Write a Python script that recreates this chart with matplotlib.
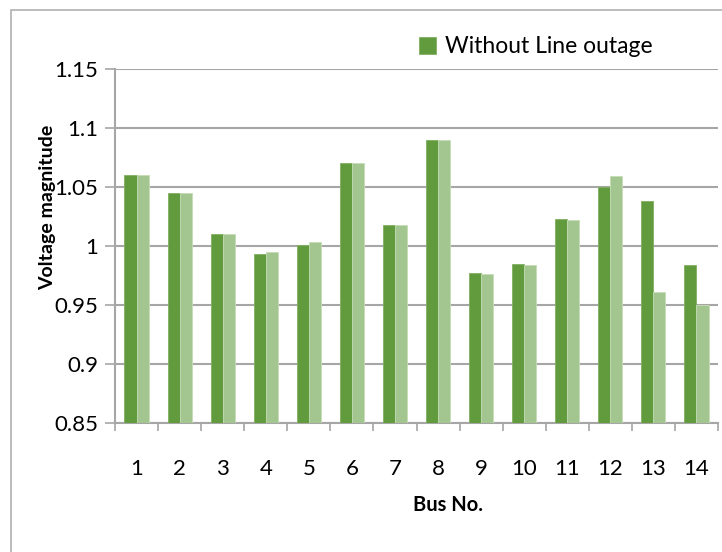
import numpy as np
import matplotlib
matplotlib.use("Agg")
import matplotlib.pyplot as plt
from matplotlib.patches import Rectangle

plt.rcParams['font.family'] = ['Lato', 'DejaVu Sans']

# bus voltage magnitudes (p.u.)
buses = list(range(1, 15))
without_outage = [1.060, 1.045, 1.010, 0.993, 1.001, 1.070, 1.018,
                  1.090, 0.977, 0.985, 1.023, 1.050, 1.038, 0.984]
with_outage = [1.060, 1.045, 1.010, 0.995, 1.003, 1.070, 1.018,
               1.090, 0.976, 0.984, 1.022, 1.059, 0.961, 0.950]
y_ticks = [0.85, 0.9, 0.95, 1.0, 1.05, 1.1, 1.15]
y_tick_labels = ['0.85', '0.9', '0.95', '1', '1.05', '1.1', '1.15']

dark_green = '#629A3E'
light_green = '#A3C58F'
grid_grey = '#A6A6A6'

fig = plt.figure(figsize=(7.22, 5.52), dpi=100)
ax = fig.add_axes([115 / 722, 1 - 423 / 552, 603 / 722, 354 / 552])

# outer chart border
fig.patches.append(Rectangle((11 / 722, -0.1), 1.2, 1 - 10 / 552 + 0.1,
                             transform=fig.transFigure, fill=False,
                             edgecolor='#B0B0B0', linewidth=1.2))

x = np.arange(len(buses))
w = 0.28
bars1 = ax.bar(x - w / 2, np.array(without_outage) - 0.85, w, bottom=0.85,
               color=dark_green, edgecolor='#7FB05E', linewidth=0.6,
               label='Without Line outage', zorder=3)
ax.bar(x + w / 2, np.array(with_outage) - 0.85, w, bottom=0.85,
       color=light_green, edgecolor='#C5DDB6', linewidth=0.6, zorder=3)

ax.set_xlim(-0.5, len(buses) - 0.5)
ax.set_ylim(0.85, 1.15)
ax.set_yticks(y_ticks)
ax.set_yticklabels(y_tick_labels, fontsize=16)
ax.set_xticks(x)
ax.set_xticklabels([str(b) for b in buses], fontsize=16)
ax.set_xticks(np.arange(-0.5, len(buses)), minor=True)
ax.tick_params(axis='x', which='major', length=0, pad=26)
ax.tick_params(axis='x', which='minor', length=6, width=1.2, color=grid_grey,
               direction='out')
ax.tick_params(axis='y', length=7, width=1.2, color=grid_grey, pad=5)

ax.yaxis.grid(True, color=grid_grey, linewidth=1.5, zorder=0)
ax.set_axisbelow(True)
for s in ['top', 'right']:
    ax.spines[s].set_visible(False)
for s in ['left', 'bottom']:
    ax.spines[s].set_color(grid_grey)
    ax.spines[s].set_linewidth(1.5)

fig.text(448 / 722, 1 - 505 / 552, 'Bus No.', ha='center', va='center',
         fontsize=14.5, fontweight='bold')
fig.text(48 / 722, 1 - 207 / 552, 'Voltage magnitude', ha='center',
         va='center', rotation=90, fontsize=14, fontweight='bold')

fig.legend(handles=[bars1], loc='center left',
           bbox_to_anchor=(398 / 722, 1 - 47 / 552), frameon=False,
           fontsize=16.5, handlelength=0.75, handleheight=0.75,
           handletextpad=0.4)

fig.savefig('out.png', dpi=100)
